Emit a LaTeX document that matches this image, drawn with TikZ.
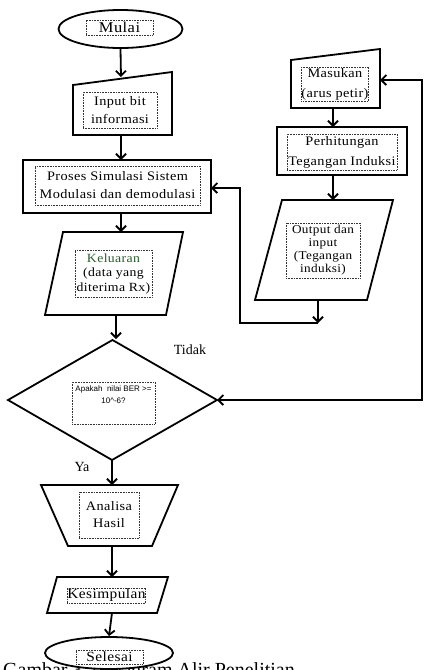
\documentclass[tikz,border=0pt]{standalone}
\usepackage{fontspec}
\setmainfont{Liberation Serif}
\newfontfamily\ls{Liberation Serif}[FakeStretch=1.1, LetterSpace=3]
\newfontfamily\tinysans{Liberation Sans}
\usetikzlibrary{arrows.meta,shapes.geometric}
\definecolor{kgreen}{RGB}{40,95,45}
\begin{document}
\begin{tikzpicture}[x=1pt,y=-1pt,
  shp/.style={draw=black, line width=1.8pt, line join=miter},
  thickbox/.style={draw=black, line width=2.4pt, inner sep=0pt},
  tbox/.style={draw=black!80, densely dotted, line width=0.6pt, inner sep=0pt, align=center},
  fs/.style={font=\ls\fontsize{13}{#1}\selectfont},
  arr/.style={line width=1.8pt, -{Straight Barb[length=5pt,width=10pt,line width=1.8pt]}},
  lbl/.style={font=\fontsize{14}{16}\selectfont, inner sep=0pt}]
\useasboundingbox (0,0) rectangle (425,670);
\fill[white] (0,0) rectangle (425,670);

% caption (cut off at bottom)
\begin{scope}
\clip (0,0) rectangle (425,670);
\node[anchor=base west, font=\fontsize{20}{24}\selectfont, inner sep=0pt] (cap) at (3,676) {Gambar 3.2 Diagram Alir Penelitian};
\end{scope}

% ---------- left column ----------
\node[shp, ellipse, minimum width=124pt, minimum height=38pt, inner sep=0pt, fill=white] (mulai) at (120.5,29) {};
\node[tbox, font=\ls\fontsize{15}{16}\selectfont, minimum width=67pt, minimum height=15pt] (tmulai) at (119.5,27.5) {Mulai};

\draw[shp] (73,85) -- (172,72) -- (172,135) -- (73,135) -- cycle;
\coordinate (intop) at (121,77);
\coordinate (inbot) at (121,135);
\node[tbox, fs=18, minimum width=74pt, minimum height=36pt] (tinput) at (120,110) {Input bit\\informasi};

\node[thickbox, minimum width=188pt, minimum height=53pt] (proses) at (117,186.5) {};
\coordinate (prtop) at (121,160);
\coordinate (prbot) at (121,213);
\coordinate (prin) at (211,188);
\node[tbox, fs=18, minimum width=165pt, minimum height=39pt] (tproses) at (117.5,185.5) {Proses Simulasi Sistem\\Modulasi dan demodulasi};

\draw[shp] (63,232) -- (183,232) -- (166,315) -- (45,315) -- cycle;
\coordinate (ktop) at (121,232);
\coordinate (kbot) at (116,315);
\node[tbox, font=\ls\fontsize{12.5}{14.5}\selectfont, minimum width=77pt, minimum height=47pt] (tkel) at (113.5,273.5) {{\color{kgreen}Keluaran}\\(data yang\\diterima Rx)};

\draw[shp] (112.5,340) -- (217,400) -- (112,460) -- (8,400) -- cycle;
\coordinate (dtop) at (116,339);
\coordinate (dright) at (217,400);
\coordinate (dbot) at (112,460);
\node[tbox, minimum width=83pt, minimum height=42pt] (tdia) at (113.5,403) {};
\node[anchor=north, align=center, inner sep=0pt, font=\tinysans\fontsize{8}{12}\selectfont] (tdiatext) at (113.5,385) {Apakah~~nilai BER >=\\10\textasciicircum-6?};

\node[lbl] (tidak) at (190,350) {Tidak};
\node[lbl] (ya) at (82,467) {Ya};

\draw[shp] (41,485) -- (178,485) -- (152,546) -- (68,546) -- cycle;
\coordinate (atop) at (112,485);
\coordinate (abot) at (112,546);
\node[tbox, fs=17, minimum width=60pt, minimum height=46pt] (tana) at (109,515) {Analisa\\Hasil};

\draw[shp] (57,577) -- (168,577) -- (157,613) -- (47,613) -- cycle;
\coordinate (kstop) at (112,577);
\coordinate (ksbot) at (112,613);
\node[tbox, font=\ls\fontsize{14}{15}\selectfont, minimum width=77pt, minimum height=15pt] (tkes) at (106.5,595.5) {Kesimpulan};

\node[shp, ellipse, minimum width=128pt, minimum height=32pt, inner sep=0pt, fill=white] (selesai) at (109,653) {};
\node[tbox, font=\ls\fontsize{14}{15}\selectfont, minimum width=67pt, minimum height=14pt] (tsel) at (109.5,657) {Selesai};

% ---------- right column ----------
\draw[shp] (291,60) -- (380,49) -- (380,108) -- (291,108) -- cycle;
\coordinate (mbot) at (333,108);
\coordinate (min) at (380,80);
\node[tbox, fs=20, minimum width=66pt, minimum height=34pt] (tmas) at (335,84) {Masukan\\(arus petir)};

\node[thickbox, minimum width=130pt, minimum height=48pt] (perh) at (342,151) {};
\coordinate (ptop) at (333,127);
\coordinate (pbot) at (333,175);
\node[tbox, fs=20, minimum width=110pt, minimum height=36pt] (tperh) at (342,152) {Perhitungan\\Tegangan Induksi};

\draw[shp] (282,200) -- (393,200) -- (367,300) -- (255,300) -- cycle;
\coordinate (otop) at (333,200);
\coordinate (obot) at (318,300);
\node[tbox, font=\ls\fontsize{12}{13}\selectfont, minimum width=74pt, minimum height=55pt] (tout) at (323,250.5) {Output dan\\input\\(Tegangan\\induksi)};

\coordinate (c1) at (318,323);
\coordinate (c2) at (240,323);
\coordinate (c3) at (240,188);
\coordinate (r1) at (422,400);
\coordinate (r2) at (422,80);

% ---------- connectors ----------
\draw[arr] (mulai.south) -- (intop);
\draw[arr] (inbot) -- (prtop);
\draw[arr] (prbot) -- (ktop);
\draw[arr] (kbot) -- (dtop);
\draw[arr] (dbot) -- (atop);
\draw[arr] (abot) -- (kstop);
\draw[arr] (ksbot) -- (selesai.north);
\draw[arr] (mbot) -- (ptop);
\draw[arr] (pbot) -- (otop);
\draw[arr] (obot) -- (c1);
\draw[arr, line join=miter] (c1) -- (c2) -- (c3) -- (prin);
\draw[line width=1.8pt, line join=miter, {Straight Barb[length=5pt,width=10pt,line width=1.8pt]}-{Straight Barb[length=5pt,width=10pt,line width=1.8pt]}] (dright) -- (r1) -- (r2) -- (min);
\end{tikzpicture}
\end{document}
